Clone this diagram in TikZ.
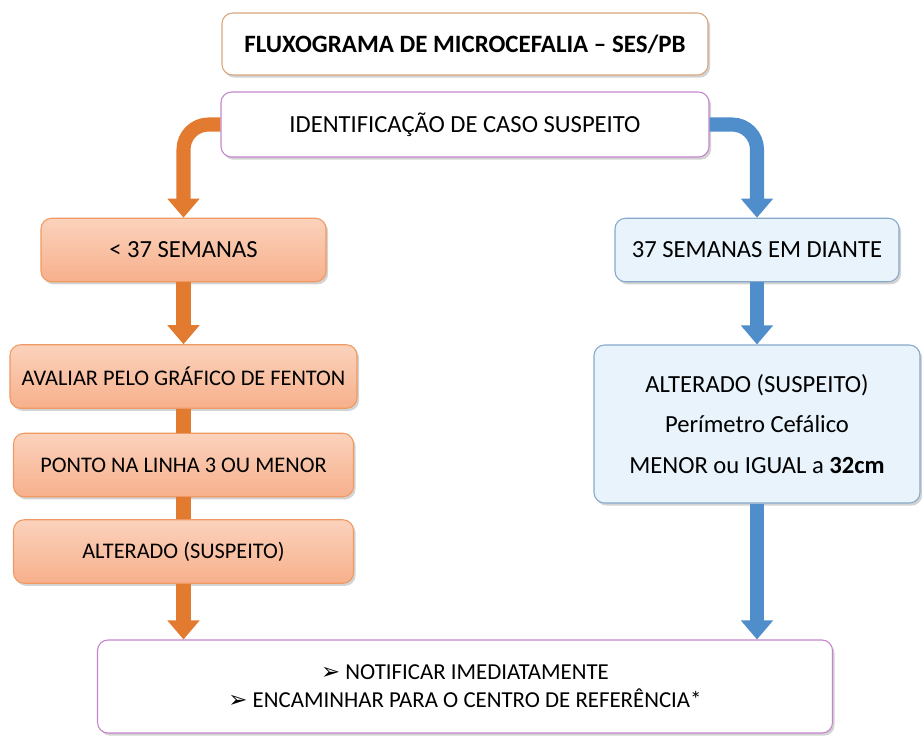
\documentclass[tikz,border=0pt]{standalone}
\usepackage{fontspec}
\setmainfont{Carlito}
\newfontfamily\symfont{DejaVu Sans}
\usetikzlibrary{shapes,arrows.meta,calc,shadows}
\definecolor{arroworange}{HTML}{E27A30}
\definecolor{orangeedge}{HTML}{EE9A62}
\definecolor{orangetop}{HTML}{FBD2BC}
\definecolor{orangebot}{HTML}{F7B08C}
\definecolor{arrowblue}{HTML}{4F8DCB}
\definecolor{blueedge}{HTML}{86A9CB}
\definecolor{bluefill}{HTML}{E8F3FB}
\definecolor{titleedge}{HTML}{D8A67C}
\definecolor{purpleedge}{HTML}{C585CC}
\tikzstyle{flowbox} = [draw, rectangle, rounded corners=6pt, text centered, minimum height=1.27cm, line width=0.6pt, drop shadow={shadow xshift=1.2pt, shadow yshift=-1.5pt, opacity=0.35}, font=\fontsize{14}{17}\selectfont]
\tikzstyle{titlebox} = [flowbox, draw=titleedge, fill=white, font=\fontsize{14.2}{17}\selectfont\bfseries]
\tikzstyle{whitebox} = [flowbox, draw=purpleedge, fill=white]
\tikzstyle{orangebox} = [flowbox, draw=orangeedge, top color=orangetop, bottom color=orangebot]
\tikzstyle{orangestep} = [orangebox, font=\fontsize{12.7}{15}\selectfont]
\tikzstyle{bluebox} = [flowbox, draw=blueedge, fill=bluefill]
\tikzstyle{orangearrow} = [draw=arroworange, line width=8pt, rounded corners=0.5cm, -{Triangle[width=0.62cm,length=0.38cm]}]
\tikzstyle{bluearrow} = [draw=arrowblue, line width=8pt, rounded corners=0.5cm, -{Triangle[width=0.62cm,length=0.38cm]}]
\tikzstyle{orangebar} = [draw=arroworange, line width=8pt]

\begin{document}
\begin{tikzpicture}
    \useasboundingbox (0,0) rectangle (18.44,-14.72);
        \node[titlebox, minimum width=9.72cm, minimum height=1.24cm] (title) at (9.3,-0.88) {FLUXOGRAMA DE MICROCEFALIA -- SES/PB};
        \node[whitebox, below of=title, node distance=1.61cm, minimum width=9.76cm, minimum height=1.3cm] (ident) {IDENTIFICAÇÃO DE CASO SUSPEITO};
        \node[orangebox, below of=ident, node distance=2.51cm, xshift=-5.63cm, minimum width=5.7cm] (less) {< 37 SEMANAS};
        \node[bluebox, right of=less, node distance=11.47cm, minimum width=5.68cm] (more) {37 SEMANAS EM DIANTE};
        \node[orangestep, below of=less, node distance=2.53cm, minimum width=6.94cm] (fenton) {AVALIAR PELO GRÁFICO DE FENTON};
        \node[orangestep, below of=fenton, node distance=1.77cm, minimum width=6.8cm] (ponto) {PONTO NA LINHA 3 OU MENOR};
        \node[orangestep, below of=ponto, node distance=1.73cm, minimum width=6.8cm] (altleft) {ALTERADO (SUSPEITO)};
        \node[bluebox, below of=more, node distance=3.48cm, minimum width=6.52cm, minimum height=3.16cm, align=center] (altright) {ALTERADO (SUSPEITO)\\[6pt] Perímetro Cefálico\\[6pt] MENOR ou IGUAL a \textbf{32cm}};
        \node[whitebox, below of=ident, node distance=11.24cm, minimum width=14.7cm, minimum height=1.86cm, align=center, font=\fontsize{13}{16}\selectfont] (notif) {{\symfont ➢} NOTIFICAR IMEDIATAMENTE\\[0pt] {\symfont ➢} ENCAMINHAR PARA O CENTRO DE REFERÊNCIA*};
        \path[orangearrow] (ident.west) -| (less.north);
        \path[bluearrow] (ident.east) -| (more.north);
        \path[orangearrow] (less.south) -- (fenton.north -| less.south);
        \path[orangebar] (fenton.south -| ponto.north) -- (ponto.north);
        \path[orangebar] (ponto.south) -- (altleft.north);
        \path[orangearrow] (altleft.south) -- (altleft.south |- notif.north);
        \path[bluearrow] (more.south) -- (altright.north -| more.south);
        \path[bluearrow] (altright.south) -- (altright.south |- notif.north);
    \end{tikzpicture}
\end{document}
